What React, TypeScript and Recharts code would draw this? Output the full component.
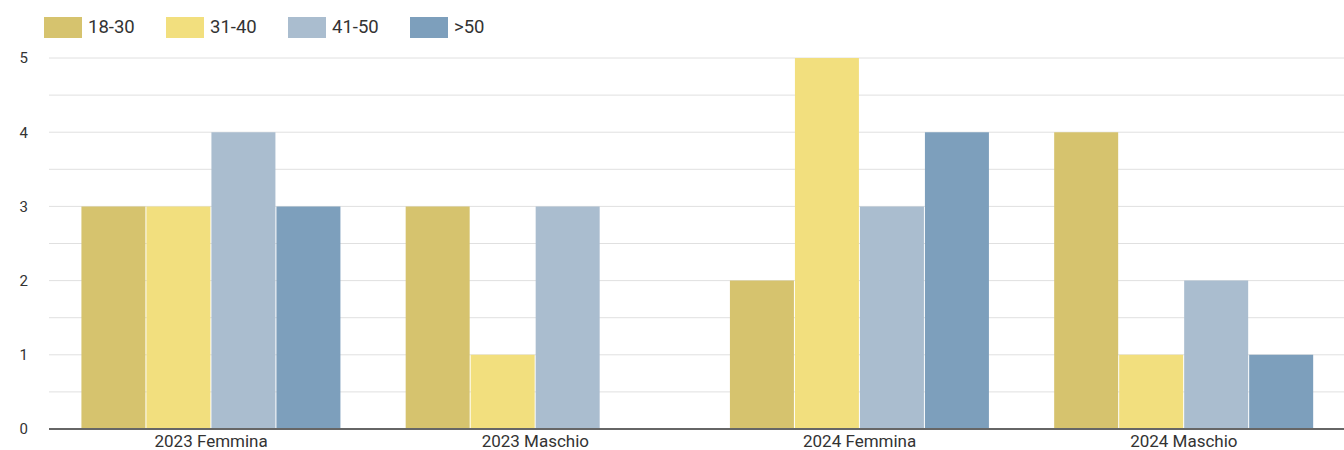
import { BarChart, Bar, XAxis, YAxis, CartesianGrid } from 'recharts';

const groups = ['2023 Femmina', '2023 Maschio', '2024 Femmina', '2024 Maschio'];
const age18to30 = [3, 3, 2, 4];
const age31to40 = [3, 1, 5, 1];
const age41to50 = [4, 3, 3, 2];
const ageOver50 = [3, 0, 4, 1];

const yTicks = [0, 1, 2, 3, 4, 5];
const gridValues = [0, 0.5, 1, 1.5, 2, 2.5, 3, 3.5, 4, 4.5, 5];

const series = [
  { key: 'a', name: '18-30', color: '#d6c36e', values: age18to30 },
  { key: 'b', name: '31-40', color: '#f2df7e', values: age31to40 },
  { key: 'c', name: '41-50', color: '#aabdcf', values: age41to50 },
  { key: 'd', name: '>50', color: '#7d9fbc', values: ageOver50 },
];

const data = groups.map((g, i) => {
  const row: Record<string, string | number> = { group: g };
  series.forEach((s) => { row[s.key] = s.values[i]; });
  return row;
});

const font = 'Roboto, "Noto Sans", sans-serif';

function LegendRow() {
  return (
    <div style={{ position: 'absolute', left: 44, top: 16, display: 'flex', fontFamily: font, zIndex: 1 }}>
      {series.map((s) => (
        <div key={s.key} style={{ width: 122, display: 'flex', alignItems: 'center' }}>
          <div style={{ width: 38, height: 21, background: s.color, marginRight: 6 }} />
          <span style={{ fontSize: 18.5, color: '#333' }}>{s.name}</span>
        </div>
      ))}
    </div>
  );
}

export default function App() {
  // plot runs a couple of pixels past the right edge, so clip the wrapper
  return (
    <div style={{ position: 'absolute', left: 0, top: 0, width: 1344, height: 450, overflow: 'hidden', background: '#fff' }}>
      <LegendRow />
      <BarChart
        width={1346}
        height={450}
        data={data}
        margin={{ top: 58, right: 0, left: 0, bottom: 0 }}
        barCategoryGap="10%"
        barGap={1}
      >
        <CartesianGrid vertical={false} stroke="#e0e0e0" horizontalValues={gridValues} />
        <XAxis
          dataKey="group"
          height={21}
          tickLine={false}
          tickSize={0}
          tickMargin={6}
          axisLine={{ stroke: '#666', strokeWidth: 2 }}
          tick={{ fill: '#333', fontSize: 17, fontFamily: font }}
        />
        <YAxis
          width={49}
          domain={[0, 5]}
          ticks={yTicks}
          axisLine={false}
          tickLine={false}
          tickSize={0}
          tickMargin={21}
          tick={{ fill: '#333', fontSize: 15, fontFamily: font }}
        />
        {series.map((s) => (
          <Bar key={s.key} dataKey={s.key} name={s.name} fill={s.color} isAnimationActive={false} />
        ))}
      </BarChart>
    </div>
  );
}
